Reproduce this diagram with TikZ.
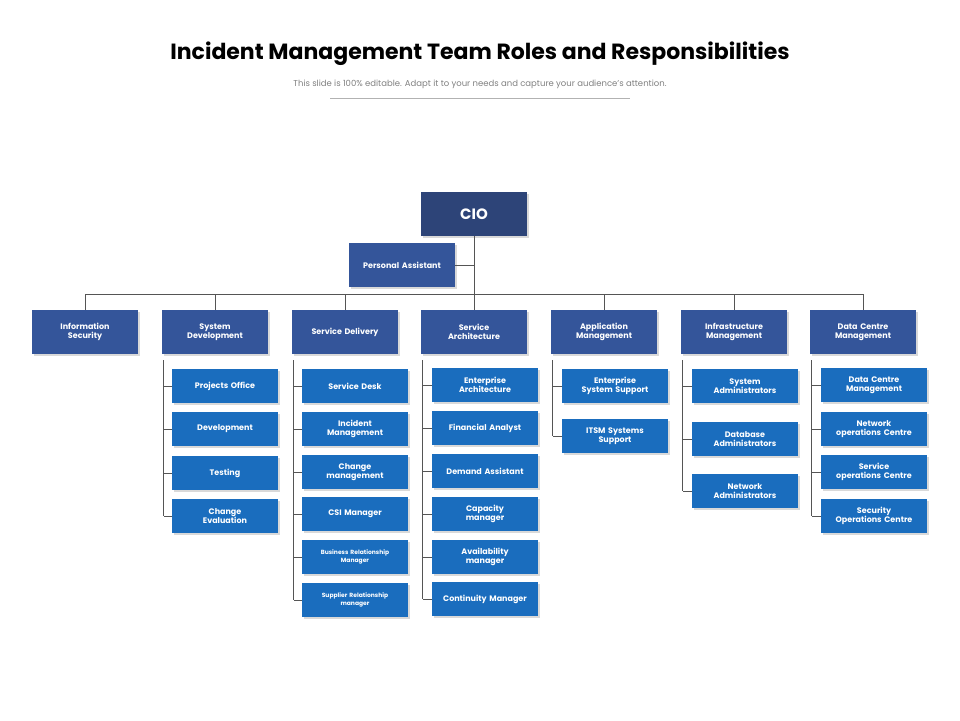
\documentclass[tikz,border=0pt]{standalone}
\usepackage{fontspec}
\setmainfont{Poppins}
\usepackage{xcolor}
\usetikzlibrary{positioning, shadows}
\definecolor{cioblue}{HTML}{2D4478}
\definecolor{headblue}{HTML}{34559A}
\definecolor{subblue}{HTML}{1A6DBE}
\definecolor{linegray}{HTML}{555555}

\begin{document}
\begin{tikzpicture}[x=1pt, y=-1pt, font=\fontsize{8}{9}\selectfont\bfseries]
	\tikzstyle{head} = [fill=headblue, text=white, minimum width=106pt, minimum height=44pt, text width=100pt, align=center, inner sep=1pt, drop shadow={opacity=0.3, shadow xshift=2pt, shadow yshift=-2pt}]
	\tikzstyle{sub} = [fill=subblue, text=white, minimum width=106pt, minimum height=34pt, text width=104pt, align=center, inner sep=1pt, drop shadow={opacity=0.3, shadow xshift=2pt, shadow yshift=-2pt}]
	\tikzstyle{wire} = [draw=linegray, line width=0.8pt]
	
	\useasboundingbox (0, 0) rectangle (960, 720);
	
	\node[font=\fontsize{22}{26}\selectfont\bfseries] at (480, 54) (title) {Incident Management Team Roles and Responsibilities};
	\node[font=\fontsize{8.5}{10}\selectfont, text=gray] at (480, 84) (subtitle) {This slide is 100\% editable. Adapt it to your needs and capture your audience's attention.};
	\draw[gray!60, line width=0.5pt] (330, 98) -- (630, 98);
	
	\node[head, fill=cioblue, font=\fontsize{15}{18}\selectfont\bfseries] at (474, 214) (cio) {CIO};
	\node[head] at (402, 265) (pa) {Personal Assistant};
	
	\node[head] at (85, 332)  (h1) {Information\\Security};
	\node[head] at (215, 332) (h2) {System\\Development};
	\node[head] at (345, 332) (h3) {Service Delivery};
	\node[head] at (474, 332) (h4) {Service\\Architecture};
	\node[head] at (604, 332) (h5) {Application\\Management};
	\node[head] at (734, 332) (h6) {Infrastructure\\Management};
	\node[head] at (863, 332) (h7) {Data Centre\\Management};
	
	\coordinate (busl) at (85, 294);
	\coordinate (busr) at (864, 294);
	\draw[wire] (cio.south) -- (h4.north);
	\draw[wire] (pa.east) -- (pa.east -| cio.south);
	\draw[wire] (busl) -- (busr);
	\foreach \h in {h1, h2, h3, h5, h6, h7}
		\draw[wire] (\h.north) -- (\h.north |- busl);
	
	% second level
	\node[sub] at (225, 386) (s21) {Projects Office};
	\node[sub] at (225, 429) (s22) {Development};
	\node[sub] at (225, 473) (s23) {Testing};
	\node[sub] at (225, 516) (s24) {Change\\Evaluation};
	
	\node[sub] at (355, 386) (s31) {Service Desk};
	\node[sub] at (355, 429) (s32) {Incident\\Management};
	\node[sub] at (355, 472) (s33) {Change\\management};
	\node[sub] at (355, 514) (s34) {CSI Manager};
	\node[sub, font=\fontsize{6}{7.5}\selectfont\bfseries] at (355, 557) (s35) {Business Relationship\\Manager};
	\node[sub, font=\fontsize{6}{7.5}\selectfont\bfseries] at (355, 600) (s36) {Supplier Relationship\\manager};
	
	\node[sub] at (485, 385) (s41) {Enterprise\\Architecture};
	\node[sub] at (485, 428) (s42) {Financial Analyst};
	\node[sub] at (485, 471) (s43) {Demand Assistant};
	\node[sub] at (485, 514) (s44) {Capacity\\manager};
	\node[sub] at (485, 557) (s45) {Availability\\manager};
	\node[sub] at (485, 599) (s46) {Continuity Manager};
	
	\node[sub] at (615, 386) (s51) {Enterprise\\System Support};
	\node[sub] at (615, 436) (s52) {ITSM Systems\\Support};
	
	\node[sub] at (745, 386) (s61) {System\\Administrators};
	\node[sub] at (745, 439) (s62) {Database\\Administrators};
	\node[sub] at (745, 491) (s63) {Network\\Administrators};
	
	\node[sub] at (874, 385) (s71) {Data Centre\\Management};
	\node[sub] at (874, 429) (s72) {Network\\operations Centre};
	\node[sub] at (874, 472) (s73) {Service\\operations Centre};
	\node[sub] at (874, 516) (s74) {Security\\Operations Centre};
	
	\foreach \h/\last/\kids in {h2/s24/{s21,s22,s23,s24}, h3/s36/{s31,s32,s33,s34,s35,s36}, h4/s46/{s41,s42,s43,s44,s45,s46}, h5/s52/{s51,s52}, h6/s63/{s61,s62,s63}, h7/s74/{s71,s72,s73,s74}} {
		\draw[wire] ([xshift=2pt, yshift=-6pt]\h.south west) coordinate (top-\h) -- (top-\h |- \last.west);
		\foreach \k in \kids
			\draw[wire] (top-\h |- \k.west) -- (\k.west);
	}
\end{tikzpicture}
\end{document}
